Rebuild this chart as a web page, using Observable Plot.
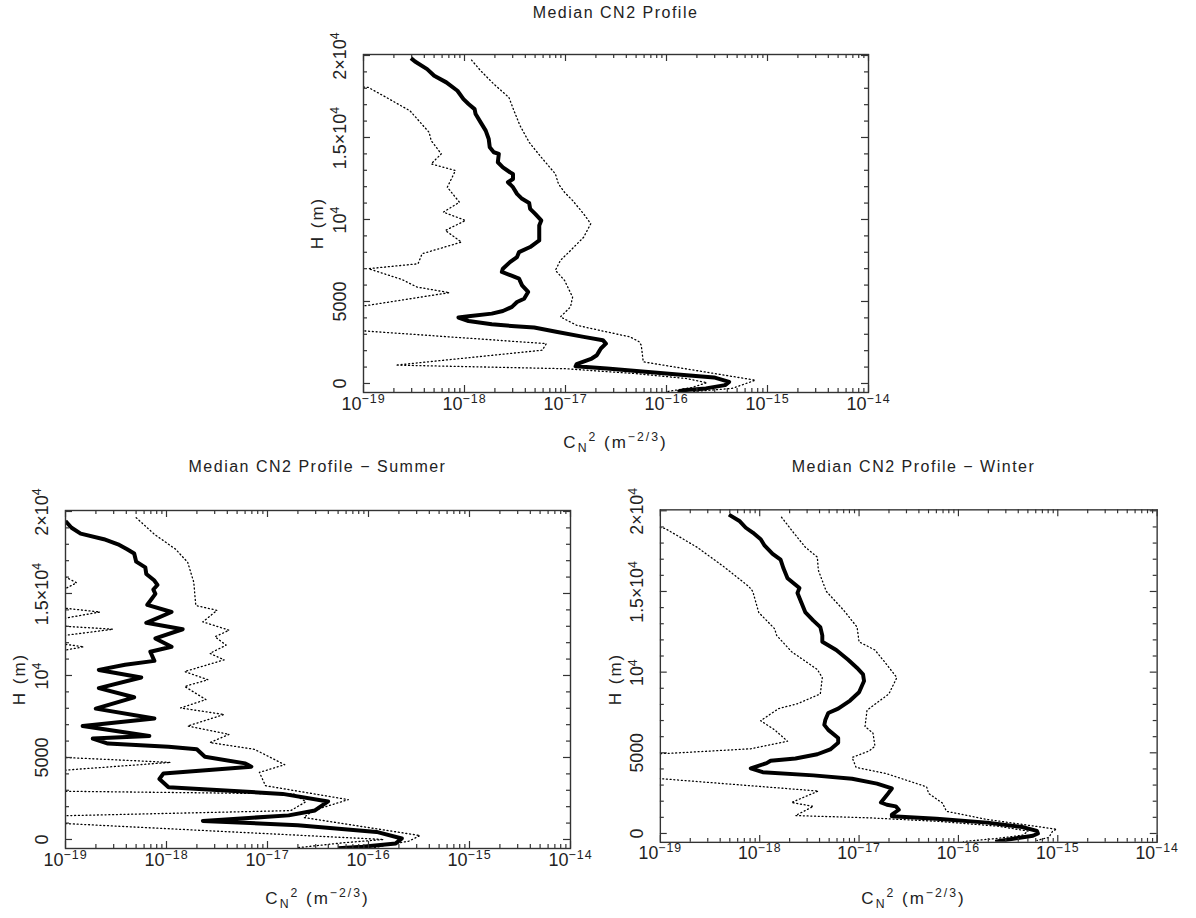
<!DOCTYPE html>
<html>
<head>
<meta charset="utf-8">
<script src="https://cdn.jsdelivr.net/npm/d3@7"></script>
<script src="https://cdn.jsdelivr.net/npm/@observablehq/plot@0.6"></script>
<style>
  body { margin: 0; background: #fff; }
  #page { position: relative; width: 1196px; height: 918px; overflow: hidden; background: #fff;
          font-family: "Liberation Sans", Arial, sans-serif; color: #222; }
  .title { position: absolute; width: 500px; text-align: center; font-size: 16px; letter-spacing: 1.5px;
           line-height: 20px; white-space: nowrap; }
  .xlabel { position: absolute; width: 300px; text-align: center; font-size: 17px; letter-spacing: 2px;
            line-height: 20px; white-space: nowrap; }
  .ylabel { position: absolute; width: 120px; height: 20px; text-align: center; font-size: 17px; letter-spacing: 2px;
            line-height: 20px; white-space: nowrap; transform: rotate(-90deg); }
  .chart { position: absolute; }
  .chart svg { overflow: visible; }
  sub, sup { font-size: 0.72em; line-height: 0; }
</style>
</head>
<body>
<div id="page"></div>
<script>
// ---- axis ticks ----
const xTickValues = [1e-19, 1e-18, 1e-17, 1e-16, 1e-15, 1e-14];
const xTickLabels = ["10^\u221219", "10^\u221218", "10^\u221217", "10^\u221216", "10^\u221215", "10^\u221214"];
const yTickValues = [0, 5000, 10000, 15000, 20000];
const yTickLabels = ["0", "5000", "10^4", "1.5\u00d710^4", "2\u00d710^4"];

// ---- titles ----
const panelTitles = ["Median CN2 Profile", "Median CN2 Profile \u2212 Summer", "Median CN2 Profile \u2212 Winter"];

// ---- data: [height (m), log10 Cn2 (m^-2/3)] ----
const allMedian = [[19840,-18.53],[19630,-18.49],[19170,-18.37],[18760,-18.30],[18360,-18.18],[17850,-18.07],[17340,-18.01],[17040,-17.96],[16730,-17.90],[16430,-17.89],[15920,-17.84],[15420,-17.79],[14910,-17.76],[14400,-17.75],[14100,-17.71],[14000,-17.66],[13490,-17.67],[13180,-17.62],[12880,-17.55],[12780,-17.52],[12470,-17.52],[12270,-17.57],[11970,-17.52],[11560,-17.48],[11260,-17.43],[11010,-17.36],[10650,-17.35],[10340,-17.30],[9940,-17.24],[9630,-17.26],[9130,-17.26],[8720,-17.26],[8320,-17.35],[8010,-17.46],[7710,-17.48],[7400,-17.55],[7000,-17.62],[6800,-17.63],[6590,-17.54],[6390,-17.46],[5980,-17.43],[5580,-17.37],[5170,-17.41],[4970,-17.48],[4670,-17.53],[4420,-17.62],[4260,-17.73],[4100,-17.96],[4020,-18.06],[3810,-17.96],[3610,-17.73],[3490,-17.50],[3410,-17.31],[3140,-17.08],[2840,-16.82],[2640,-16.63],[2430,-16.60],[2130,-16.65],[1930,-16.67],[1720,-16.69],[1520,-16.74],[1180,-16.89],[1050,-16.90],[910,-16.59],[710,-16.21],[510,-15.83],[370,-15.53],[100,-15.38],[-100,-15.42],[-300,-15.61],[-410,-15.83],[-510,-15.89]];
const allUpper = [[19720,-17.93],[19070,-17.84],[18260,-17.71],[17440,-17.56],[16630,-17.51],[15720,-17.45],[14710,-17.36],[13790,-17.24],[12780,-17.10],[12170,-17.07],[11660,-17.01],[11160,-16.93],[10340,-16.82],[9740,-16.75],[8920,-16.82],[8110,-16.95],[7510,-17.05],[6900,-17.10],[6290,-17.01],[5270,-16.93],[4670,-16.95],[4060,-17.05],[3550,-16.89],[3250,-16.67],[2840,-16.36],[2540,-16.27],[2330,-16.25],[1320,-16.23],[200,-15.12],[-300,-15.35],[-500,-15.75]];
const allLower = [[18200,-19.3],[18050,-18.95],[16630,-18.54],[15310,-18.35],[14810,-18.33],[14000,-18.23],[13390,-18.33],[12980,-18.09],[11970,-18.17],[11050,-18.05],[10450,-18.21],[9940,-17.99],[9330,-18.19],[8620,-18.03],[7910,-18.42],[7300,-18.46],[7000,-18.95],[6340,-18.62],[5880,-18.47],[5540,-18.15],[4770,-18.95],[4500,-19.3],[3350,-19.3],[3200,-18.98],[2430,-17.19],[2030,-17.23],[1120,-18.68],[900,-17.0],[600,-16.3],[300,-15.8],[50,-15.6],[-250,-15.75],[-500,-16.0]];

const summerMedian = [[19420,-19.0],[19010,-18.94],[18650,-18.85],[18310,-18.62],[18000,-18.48],[17700,-18.39],[17440,-18.32],[16940,-18.30],[16590,-18.21],[16190,-18.20],[15790,-18.12],[15520,-18.09],[15240,-18.13],[14980,-18.11],[14310,-18.19],[13870,-17.95],[13210,-18.20],[12820,-17.84],[12260,-18.11],[11750,-17.95],[11450,-18.16],[10890,-18.12],[10650,-18.41],[10340,-18.67],[9880,-18.25],[9230,-18.67],[8670,-18.32],[7980,-18.70],[7380,-18.12],[6920,-18.83],[6310,-18.17],[6150,-18.73],[5850,-18.58],[5650,-17.98],[5500,-17.70],[5040,-17.62],[4640,-17.22],[4440,-17.16],[4030,-18.03],[3690,-18.07],[3190,-17.98],[2780,-16.85],[2320,-16.40],[1770,-16.53],[1470,-16.79],[1130,-17.64],[870,-16.70],[460,-15.92],[60,-15.67],[-240,-15.73],[-440,-16.06],[-540,-16.30]];
const summerUpper = [[19620,-18.30],[18610,-18.12],[17700,-17.91],[16900,-17.79],[15690,-17.73],[14270,-17.71],[13970,-17.50],[13270,-17.64],[12760,-17.38],[12360,-17.52],[11850,-17.41],[11350,-17.57],[10950,-17.43],[10240,-17.82],[9740,-17.59],[9330,-17.82],[8530,-17.61],[8020,-17.86],[7620,-17.43],[6920,-17.79],[6410,-17.38],[5910,-17.57],[5500,-17.13],[4560,-16.83],[4090,-17.08],[3280,-17.02],[2430,-16.20],[1760,-16.55],[1340,-16.64],[240,-15.49],[-100,-15.6],[-500,-15.95]];
const summerLower = [[16300,-19.3],[16000,-19.0],[15650,-18.89],[15300,-19.0],[15000,-19.3],[14300,-19.3],[14100,-19.0],[13870,-18.66],[13500,-19.0],[13300,-19.3],[13100,-19.3],[13000,-19.0],[12820,-18.53],[12450,-19.0],[12200,-19.3],[12000,-19.3],[11900,-19.0],[11750,-18.82],[11550,-19.0],[11400,-19.3],[5100,-19.3],[5000,-19.0],[4700,-17.96],[4230,-19.0],[4150,-19.3],[3050,-19.3],[2940,-19.0],[2780,-16.74],[2300,-16.62],[1760,-16.77],[1450,-19.0],[1350,-19.3],[1050,-19.3],[970,-19.0],[0,-15.85],[-200,-16.25],[-500,-16.7]];

const winterMedian = [[19760,-18.31],[19350,-18.20],[18950,-18.14],[18650,-18.07],[18240,-17.99],[17840,-17.95],[17330,-17.87],[16970,-17.79],[16420,-17.76],[15820,-17.72],[15410,-17.64],[15210,-17.60],[14910,-17.62],[14300,-17.58],[13700,-17.54],[13190,-17.46],[12790,-17.39],[12280,-17.37],[11880,-17.37],[11370,-17.23],[10770,-17.11],[10260,-17.02],[9860,-16.96],[9450,-16.95],[8750,-17.00],[8240,-17.09],[7740,-17.21],[7470,-17.31],[7030,-17.34],[6730,-17.35],[6420,-17.31],[5920,-17.21],[5620,-17.21],[5210,-17.29],[4910,-17.42],[4650,-17.64],[4510,-17.89],[4360,-17.93],[4040,-18.09],[3800,-17.97],[3600,-17.46],[3390,-17.07],[3090,-16.82],[2790,-16.67],[2380,-16.72],[1920,-16.78],[1780,-16.72],[1680,-16.63],[1470,-16.60],[1170,-16.67],[1070,-16.67],[910,-16.22],[670,-15.71],[400,-15.36],[160,-15.21],[0,-15.20],[-140,-15.25],[-280,-15.40],[-510,-15.63]];
const winterUpper = [[19600,-17.78],[18650,-17.66],[17740,-17.54],[17130,-17.42],[16320,-17.41],[15010,-17.33],[13800,-17.15],[12790,-17.02],[11880,-17.00],[11370,-16.84],[10460,-16.72],[9660,-16.62],[8650,-16.70],[7640,-16.92],[6630,-16.94],[6220,-16.86],[5410,-16.84],[5110,-16.90],[4710,-17.07],[4100,-17.03],[3700,-16.72],[2890,-16.32],[2480,-16.30],[1880,-16.16],[1370,-16.12],[870,-15.71],[260,-15.01],[160,-15.05],[-240,-15.09],[-440,-15.21]];
const winterLower = [[19300,-19.3],[18900,-18.95],[17740,-18.63],[16530,-18.36],[15310,-18.11],[15010,-18.07],[13700,-18.01],[12690,-17.85],[12280,-17.83],[11270,-17.68],[10160,-17.42],[9660,-17.37],[8650,-17.39],[8040,-17.62],[7740,-17.81],[6990,-17.99],[6420,-17.85],[5720,-17.72],[5250,-18.09],[4970,-18.90],[4900,-19.3],[3500,-19.3],[3390,-18.98],[2630,-17.41],[1920,-17.68],[1680,-17.46],[1110,-17.64],[970,-16.9],[750,-16.2],[450,-15.6],[150,-15.3],[-100,-15.35],[-300,-15.6],[-500,-15.95]];

// ---- layout ----
const FW = 505, FH = 338;
const mL = 70, mR = 40, mT = 40, mB = 40;
const panels = [
  {title: panelTitles[0], median: allMedian, upper: allUpper, lower: allLower, left: 363, top: 54},
  {title: panelTitles[1], median: summerMedian, upper: summerUpper, lower: summerLower, left: 65, top: 510},
  {title: panelTitles[2], median: winterMedian, upper: winterUpper, lower: winterLower, left: 661, top: 510}
];

const xMinor = d3.range(-19, -14).flatMap(e => d3.range(2, 10).map(k => k * Math.pow(10, e)));
const yMinor = d3.range(1000, 20000, 1000).filter(v => v % 5000 !== 0);
const xTicks = xTickValues.map((v, i) => ({v, label: xTickLabels[i]}));
const yTicks = yTickValues.map((v, i) => ({v, label: yTickLabels[i]}));
const rows = arr => arr.map(([h, e]) => ({h, v: Math.pow(10, e)}));

const SVGNS = "http://www.w3.org/2000/svg";
function styleLabels(svg) {
  svg.querySelectorAll("text").forEach(t => {
    t.style.fontSize = "18px";
    t.style.fontFamily = "'Liberation Sans', Arial, sans-serif";
    const s = t.textContent;
    if (!s.includes("^")) return;
    const [base, sup] = s.split("^");
    while (t.firstChild) t.removeChild(t.firstChild);
    const a = document.createElementNS(SVGNS, "tspan");
    a.textContent = base;
    const b = document.createElementNS(SVGNS, "tspan");
    b.setAttribute("dy", "-7");
    b.style.fontSize = "12.5px";
    b.style.letterSpacing = "1px";
    b.textContent = sup;
    t.appendChild(a); t.appendChild(b);
  });
}

const page = document.getElementById("page");
const ink = "#333";
const dots = "1,2.8";
for (const p of panels) {
  const chart = Plot.plot({
    width: mL + FW + mR, height: mT + FH + mB,
    marginLeft: mL, marginRight: mR, marginTop: mT, marginBottom: mB,
    x: {type: "log", domain: [1e-19, 1e-14], axis: null},
    y: {domain: [-550, 20060], axis: null},
    style: {background: "transparent", fontFamily: "'Liberation Sans', Arial, sans-serif", fontSize: "18px", overflow: "visible"},
    marks: [
      Plot.line(rows(p.lower), {x: "v", y: "h", stroke: "#000", strokeWidth: 1.3, strokeDasharray: dots, clip: true}),
      Plot.line(rows(p.upper), {x: "v", y: "h", stroke: "#000", strokeWidth: 1.3, strokeDasharray: dots, clip: true}),
      Plot.line(rows(p.median), {x: "v", y: "h", stroke: "#000", strokeWidth: 4, strokeLinejoin: "round", strokeLinecap: "butt", clip: true}),
      Plot.tickX(xTickValues, {x: d => d, insetTop: FH - 7, stroke: ink, strokeWidth: 1.2}),
      Plot.tickX(xTickValues, {x: d => d, insetBottom: FH - 7, stroke: ink, strokeWidth: 1.2}),
      Plot.tickX(xMinor, {x: d => d, insetTop: FH - 4, stroke: ink, strokeWidth: 1.2}),
      Plot.tickX(xMinor, {x: d => d, insetBottom: FH - 4, stroke: ink, strokeWidth: 1.2}),
      Plot.tickY(yTickValues, {y: d => d, insetRight: FW - 7, stroke: ink, strokeWidth: 1.2}),
      Plot.tickY(yTickValues, {y: d => d, insetLeft: FW - 7, stroke: ink, strokeWidth: 1.2}),
      Plot.tickY(yMinor, {y: d => d, insetRight: FW - 4, stroke: ink, strokeWidth: 1.2}),
      Plot.tickY(yMinor, {y: d => d, insetLeft: FW - 4, stroke: ink, strokeWidth: 1.2}),
      Plot.frame({stroke: ink, strokeWidth: 1.4}),
      Plot.text(xTicks, {x: "v", text: "label", frameAnchor: "bottom", dy: 17, fontSize: 18, fill: "#222", textAnchor: "middle"}),
      Plot.text(yTicks, {y: "v", text: "label", frameAnchor: "left", dx: -23, rotate: -90, fontSize: 18, fill: "#222", textAnchor: "middle"})
    ]
  });
  styleLabels(chart);
  const holder = document.createElement("div");
  holder.className = "chart";
  holder.style.left = (p.left - mL) + "px";
  holder.style.top = (p.top - mT) + "px";
  holder.appendChild(chart);
  page.appendChild(holder);

  const cx = p.left + FW / 2;
  const title = document.createElement("div");
  title.className = "title";
  title.textContent = p.title;
  title.style.left = (cx - 250) + "px";
  title.style.top = (p.top - (p.top < 100 ? 51 : 53)) + "px";
  page.appendChild(title);

  const xl = document.createElement("div");
  xl.className = "xlabel";
  xl.innerHTML = "C<sub>N</sub><sup>2</sup> (m<sup>\u22122/3</sup>)";
  xl.style.left = (cx - 150) + "px";
  xl.style.top = (p.top + FH + 41) + "px";
  page.appendChild(xl);

  const yl = document.createElement("div");
  yl.className = "ylabel";
  yl.textContent = "H (m)";
  yl.style.left = (p.left - 45 - 60) + "px";
  yl.style.top = (p.top + FH / 2 - 10) + "px";
  page.appendChild(yl);
}
</script>
</body>
</html>
